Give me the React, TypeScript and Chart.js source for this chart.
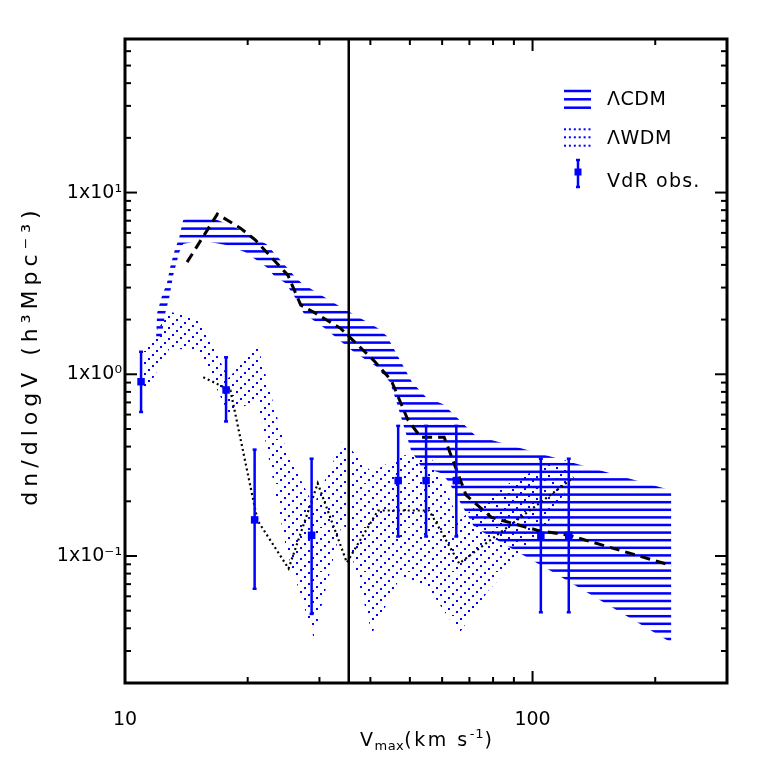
import React, { useEffect, useRef } from 'react';
import { Chart, registerables } from 'chart.js';

Chart.register(...registerables);

const BLUE = '#0000ff';
const FONT = "'DejaVu Sans', sans-serif";

// ---------------- data ----------------
// VdR observations
const obsV = [10.95, 17.7, 20.8, 28.7, 46.8, 54.8, 65.0, 104.8, 122.7];
const obsN = [0.91, 0.82, 0.158, 0.13, 0.26, 0.26, 0.26, 0.13, 0.13];
const obsHi = [1.33, 1.24, 0.385, 0.343, 0.52, 0.52, 0.52, 0.343, 0.343];
const obsLo = [0.62, 0.55, 0.066, 0.048, 0.128, 0.128, 0.128, 0.049, 0.049];

// LCDM band, upper edge
const cdmUpperV = [11.92, 11.99, 12.27, 12.69, 12.91, 13.20, 13.59, 13.89, 14.46, 16.19, 19.09, 22.25, 25.94, 27.14, 33.28, 41.76, 43.95, 50.63, 54.82, 60.39, 72.38, 218.8];
const cdmUpperN = [1.579, 2.168, 2.622, 3.213, 3.886, 4.701, 5.685, 7.055, 7.33, 7.33, 6.29, 5.20, 3.51, 3.17, 2.40, 1.79, 1.62, 0.903, 0.747, 0.684, 0.461, 0.230];
// LCDM band, lower edge
const cdmLowerV = [12.27, 12.55, 12.83, 13.13, 13.59, 13.89, 15.30, 17.83, 19.75, 22.38, 23.15, 24.79, 26.39, 27.44, 30.92, 36.24, 41.29, 44.70, 46.24, 50.35, 53.29, 59.71, 62.13, 71.96, 77.93, 112.6, 218.8];
const cdmLowerN = [1.579, 2.168, 2.622, 3.512, 4.701, 5.203, 5.473, 5.137, 4.70, 3.84, 3.51, 3.17, 2.56, 2.17, 1.79, 1.34, 1.107, 0.903, 0.719, 0.381, 0.311, 0.285, 0.257, 0.144, 0.130, 0.0811, 0.0334];
// LCDM median (dashed)
const cdmMedV = [14.2, 16.85, 19.2, 20.9, 25.1, 27.0, 29.0, 33.8, 40.8, 45.0, 49.5, 53.2, 60.7, 68.7, 79.3, 103.4, 122.9, 219];
const cdmMedN = [4.14, 7.61, 6.37, 5.47, 3.51, 2.40, 2.20, 1.79, 1.19, 0.927, 0.558, 0.450, 0.450, 0.216, 0.163, 0.138, 0.130, 0.0887];

// LWDM band
const wdmV = [10.95, 12.91, 15.21, 17.94, 21.14, 24.93, 29.04, 34.23, 40.36, 47.58, 56.09, 66.08, 77.93, 91.86, 108.3, 124.8];
const wdmUpper = [1.32, 2.20, 2.04, 0.95, 1.45, 0.372, 0.19, 0.433, 0.288, 0.358, 0.358, 0.157, 0.216, 0.267, 0.315, 0.344];
const wdmLower = [0.72, 1.41, 1.32, 0.61, 0.72, 0.107, 0.0356, 0.157, 0.0374, 0.0781, 0.0645, 0.0374, 0.0645, 0.0944, 0.147, 0.267];
// LWDM mean (dotted)
const wdmMeanV = [15.56, 18.14, 21.14, 25.20, 29.71, 35.02, 41.76, 55.76, 66.08, 126.2];
const wdmMeanN = [0.963, 0.816, 0.157, 0.0853, 0.251, 0.0921, 0.178, 0.178, 0.0909, 0.271];

const cutV = 35.4;

// axes
const xMin = 10, xMax = 300;
const yMin = 0.02, yMax = 70;
const xTickValues = [10, 20, 30, 40, 50, 60, 70, 80, 90, 100, 200, 300];
const yTickValues = [0.02, 0.03, 0.04, 0.05, 0.06, 0.07, 0.08, 0.09, 0.1, 0.2, 0.3, 0.4, 0.5, 0.6, 0.7, 0.8, 0.9, 1, 2, 3, 4, 5, 6, 7, 8, 9, 10, 20, 30, 40, 50, 60, 70];
const xLabelValues = [10, 100];
const xLabelTexts = ['10', '100'];
const yLabelValues = [0.1, 1, 10];
const yLabelTexts = ['1x10⁻¹', '1x10⁰', '1x10¹'];
const xTitleParts = ['V', 'max', '(km s', '-1', ')'];
const yTitle = 'dn/dlogV (h³Mpc⁻³)';
const legendTexts = ['ΛCDM', 'ΛWDM', 'VdR obs.'];

// ---------------- helpers ----------------
const pts = (xs: number[], ys: number[]) => xs.map((x, i) => ({ x, y: ys[i] }));
const same = (a: number, b: number) => Math.abs(Math.log10(a) - Math.log10(b)) < 1e-6;
const labelFor = (v: number, values: number[], texts: string[]) => {
  for (let i = 0; i < values.length; i++) if (same(v, values[i])) return texts[i];
  return '';
};

function hatchPattern(): CanvasPattern {
  const c = document.createElement('canvas');
  c.width = 8; c.height = 38;
  const g = c.getContext('2d')!;
  g.fillStyle = BLUE;
  const centers = [31, 23.4, 15.8, 8.2, 0.6, 38.6];
  centers.forEach((cy) => g.fillRect(0, cy - 1.25, 8, 2.5));
  return g.createPattern(c, 'repeat')!;
}

function dotPattern(): CanvasPattern {
  const c = document.createElement('canvas');
  c.width = 44; c.height = 44;
  const g = c.getContext('2d')!;
  g.fillStyle = BLUE;
  for (let k = 0; k < 11; k++) {
    for (let j = 0; j < 4; j++) {
      const x = 4 * k;
      const y = ((44 - 4 * k) + 11 * j) % 44;
      g.fillRect(x, y, 2, 2);
    }
  }
  return g.createPattern(c, 'repeat')!;
}

const framePlugin = {
  id: 'frame',
  afterDatasetsDraw(chart: any) {
    const { ctx, chartArea: a, scales } = chart;
    const x = scales.x, y = scales.y;
    ctx.save();
    ctx.strokeStyle = '#000';
    ctx.lineWidth = 2;
    const seg = (x1: number, y1: number, x2: number, y2: number) => {
      ctx.beginPath(); ctx.moveTo(x1, y1); ctx.lineTo(x2, y2); ctx.stroke();
    };
    x.ticks.forEach((t: any) => {
      const px = x.getPixelForValue(t.value);
      if (px <= a.left + 2 || px >= a.right - 2) return;
      const len = xLabelValues.some((v) => same(v, t.value)) ? 12 : 6;
      seg(px, a.bottom, px, a.bottom - len);
      seg(px, a.top, px, a.top + len);
    });
    y.ticks.forEach((t: any) => {
      const py = y.getPixelForValue(t.value);
      if (py <= a.top + 2 || py >= a.bottom - 2) return;
      const len = yLabelValues.some((v) => same(v, t.value)) ? 12 : 6;
      seg(a.left, py, a.left + len, py);
      seg(a.right, py, a.right - len, py);
    });
    ctx.lineWidth = 3;
    ctx.strokeRect(a.left, a.top, a.right - a.left, a.bottom - a.top);
    ctx.restore();
  },
};

const errorPlugin = {
  id: 'errbars',
  afterDatasetsDraw(chart: any) {
    const { ctx, scales } = chart;
    const x = scales.x, y = scales.y;
    ctx.save();
    ctx.strokeStyle = BLUE;
    ctx.lineWidth = 2.5;
    obsV.forEach((v, i) => {
      const px = x.getPixelForValue(v);
      const top = y.getPixelForValue(obsHi[i]);
      const bot = y.getPixelForValue(obsLo[i]);
      ctx.beginPath(); ctx.moveTo(px, top); ctx.lineTo(px, bot); ctx.stroke();
      ctx.beginPath(); ctx.moveTo(px - 2, top); ctx.lineTo(px + 2, top); ctx.stroke();
      ctx.beginPath(); ctx.moveTo(px - 2, bot); ctx.lineTo(px + 2, bot); ctx.stroke();
    });
    ctx.restore();
  },
};

const titlePlugin = {
  id: 'axisTitles',
  afterDraw(chart: any) {
    const { ctx, chartArea: a } = chart;
    ctx.save();
    ctx.fillStyle = '#000';
    // y title
    ctx.save();
    ctx.translate(31, 358);
    ctx.rotate(-Math.PI / 2);
    ctx.font = `22px ${FONT}`;
    (ctx as any).letterSpacing = '5px';
    ctx.textAlign = 'center';
    ctx.textBaseline = 'middle';
    ctx.fillText(yTitle, 2.5, 0);
    ctx.restore();
    // x title with subscript / superscript
    const big = `19px ${FONT}`, small = `13px ${FONT}`;
    const specs = [
      { f: big, dy: 0, ls: 1.5 },
      { f: small, dy: 4, ls: 0.5 },
      { f: big, dy: 0, ls: 2.5 },
      { f: small, dy: -8, ls: 1 },
      { f: big, dy: 0, ls: 0 },
    ];
    let total = 0;
    const widths = xTitleParts.map((t, i) => {
      ctx.font = specs[i].f;
      (ctx as any).letterSpacing = `${specs[i].ls}px`;
      const w = ctx.measureText(t).width;
      total += w;
      return w;
    });
    let cx = (a.left + a.right) / 2 - total / 2;
    const base = 746;
    ctx.textAlign = 'left';
    ctx.textBaseline = 'alphabetic';
    xTitleParts.forEach((t, i) => {
      ctx.font = specs[i].f;
      (ctx as any).letterSpacing = `${specs[i].ls}px`;
      ctx.fillText(t, cx, base + specs[i].dy);
      cx += widths[i];
    });
    (ctx as any).letterSpacing = '0px';
    ctx.restore();
  },
};

const legendPlugin = {
  id: 'legendBox',
  afterDraw(chart: any) {
    const { ctx } = chart;
    ctx.save();
    ctx.fillStyle = BLUE;
    [91, 99.3, 107.7].forEach((yy) => ctx.fillRect(564, yy - 1.25, 27, 2.5));
    [129.3, 137.3, 145.7].forEach((yy) => {
      for (let i = 0; i < 6; i++) ctx.fillRect(564 + i * 4.9, yy - 1, 2, 2);
    });
    ctx.strokeStyle = BLUE;
    ctx.lineWidth = 2.5;
    ctx.beginPath(); ctx.moveTo(578, 160); ctx.lineTo(578, 187); ctx.stroke();
    ctx.beginPath(); ctx.moveTo(576, 160); ctx.lineTo(580, 160); ctx.stroke();
    ctx.beginPath(); ctx.moveTo(576, 187); ctx.lineTo(580, 187); ctx.stroke();
    ctx.fillRect(574.5, 168.5, 7, 7);
    ctx.fillStyle = '#000';
    ctx.font = `19px ${FONT}`;
    (ctx as any).letterSpacing = '0.5px';
    ctx.textAlign = 'left';
    ctx.textBaseline = 'middle';
    ctx.fillText(legendTexts[0], 607, 100);
    ctx.fillText(legendTexts[1], 607, 139);
    (ctx as any).letterSpacing = '1.2px';
    ctx.fillText(legendTexts[2], 607, 182);
    (ctx as any).letterSpacing = '0px';
    ctx.restore();
  },
};

export default function App() {
  const ref = useRef<HTMLCanvasElement>(null);
  useEffect(() => {
    const canvas = ref.current!;
    Chart.defaults.font.family = FONT;
    Chart.defaults.color = '#000';
    const hatch = hatchPattern();
    const dots = dotPattern();
    const cdmPoly = [...pts(cdmUpperV, cdmUpperN), ...pts(cdmLowerV, cdmLowerN).reverse()];
    const wdmPoly = [...pts(wdmV, wdmUpper), ...pts(wdmV, wdmLower).reverse()];
    const tickFont = { family: FONT, size: 19 };
    const chart = new Chart(canvas, {
      type: 'line',
      data: {
        datasets: [
          {
            label: 'LWDM band', data: wdmPoly as any, fill: 'shape', backgroundColor: dots as any,
            borderColor: 'rgba(0,0,0,0)', borderWidth: 0, pointRadius: 0, order: 6,
          },
          {
            label: 'LCDM band', data: cdmPoly as any, fill: 'shape', backgroundColor: hatch as any,
            borderColor: 'rgba(0,0,0,0)', borderWidth: 0, pointRadius: 0, order: 5,
          },
          {
            label: 'LWDM mean', data: pts(wdmMeanV, wdmMeanN) as any, borderColor: '#000',
            borderWidth: 2.2, borderDash: [2, 3], pointRadius: 0, fill: false, order: 4,
          },
          {
            label: 'LCDM median', data: pts(cdmMedV, cdmMedN) as any, borderColor: '#000',
            borderWidth: 3, borderDash: [10, 6], pointRadius: 0, fill: false, order: 3,
          },
          {
            label: 'cut', data: [{ x: cutV, y: yMin }, { x: cutV, y: yMax }] as any, borderColor: '#000',
            borderWidth: 2.5, pointRadius: 0, fill: false, order: 2,
          },
          {
            label: 'VdR obs.', data: pts(obsV, obsN) as any, showLine: false, pointStyle: 'rect',
            pointRadius: 5.3, backgroundColor: BLUE, borderColor: BLUE, borderWidth: 0, order: 1,
          },
        ],
      },
      options: {
        animation: false,
        responsive: false,
        devicePixelRatio: 1,
        events: [],
        layout: { padding: { top: 39, right: 36, left: 0, bottom: 0 } },
        plugins: { legend: { display: false }, tooltip: { enabled: false }, title: { display: false } },
        scales: {
          x: {
            type: 'logarithmic', position: 'bottom', min: xMin, max: xMax,
            grid: { display: false, drawTicks: false }, border: { display: false },
            afterBuildTicks: (s: any) => { s.ticks = xTickValues.map((v) => ({ value: v })); },
            afterFit: (s: any) => { s.height = 80; },
            ticks: {
              autoSkip: false, maxRotation: 0, padding: 26, font: tickFont, color: '#000',
              callback: (v: any) => labelFor(Number(v), xLabelValues, xLabelTexts),
            },
            title: { display: false },
          },
          y: {
            type: 'logarithmic', position: 'left', min: yMin, max: yMax,
            grid: { display: false, drawTicks: false }, border: { display: false },
            afterBuildTicks: (s: any) => { s.ticks = yTickValues.map((v) => ({ value: v })); },
            afterFit: (s: any) => { s.width = 125; },
            ticks: {
              autoSkip: false, padding: 3, font: tickFont, color: '#000',
              callback: (v: any) => labelFor(Number(v), yLabelValues, yLabelTexts),
            },
            title: { display: false },
          },
        },
      },
      plugins: [framePlugin, errorPlugin, titlePlugin, legendPlugin],
    } as any);
    return () => chart.destroy();
  }, []);
  return (
    <div style={{ position: 'fixed', left: 0, top: 0, width: 763, height: 763, background: '#fff' }}>
      <canvas ref={ref} width={763} height={763} style={{ display: 'block', width: 763, height: 763 }} />
    </div>
  );
}
